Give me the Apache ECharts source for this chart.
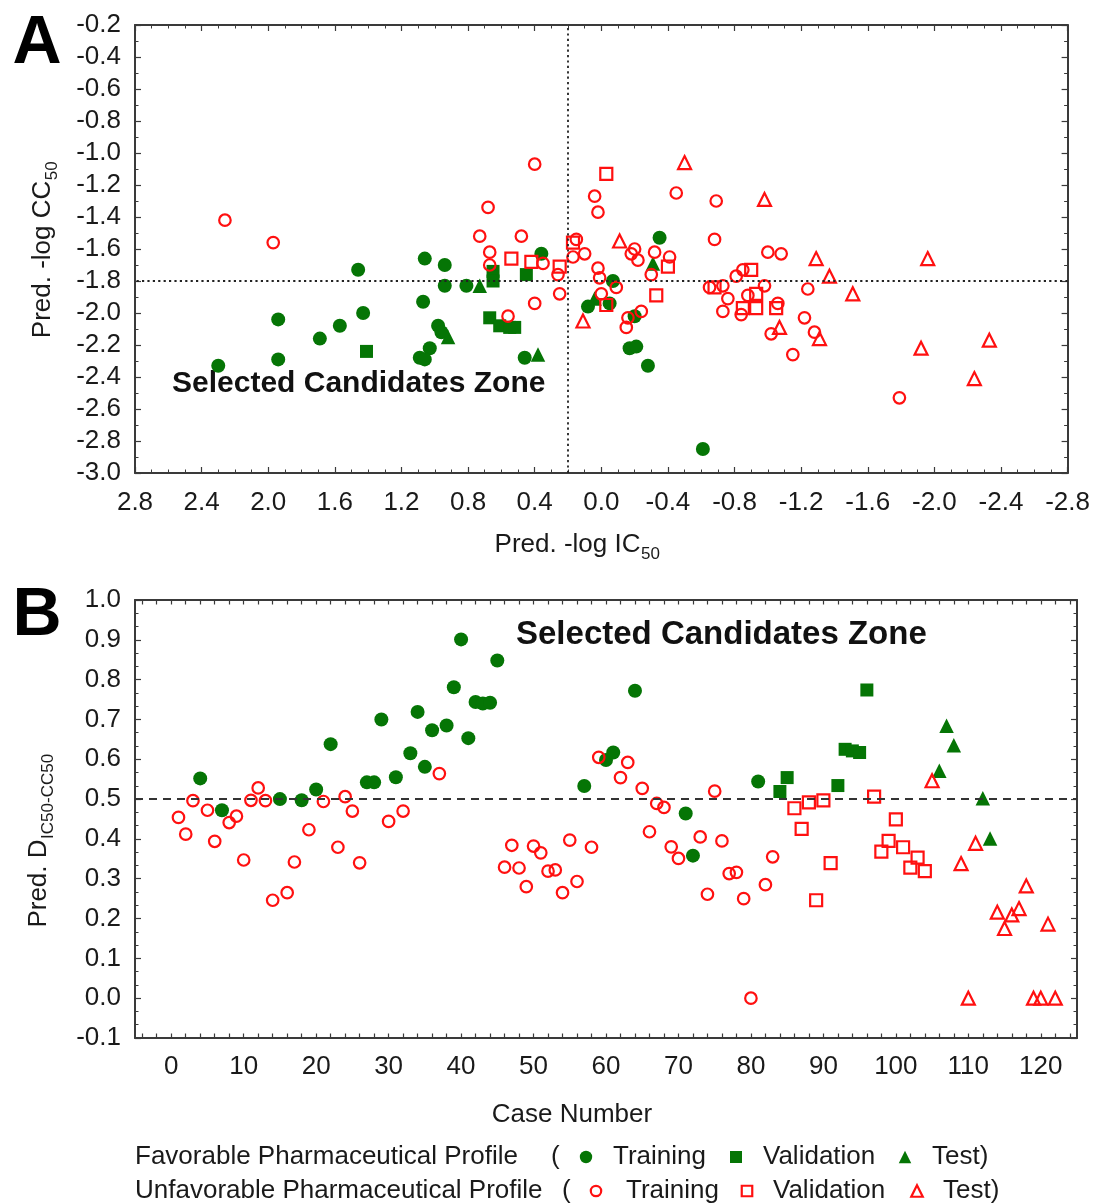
<!DOCTYPE html>
<html>
<head>
<meta charset="utf-8">
<title>Predicted activity / cytotoxicity</title>
<script src="https://cdn.jsdelivr.net/npm/echarts@6/dist/echarts.min.js"></script>
<style>
  html, body { margin: 0; padding: 0; background: #ffffff; }
  #chart { width: 1093px; height: 1203px; }
</style>
</head>
<body>
<div id="chart"></div>
<script>
// ---------- Panel A: predicted -log IC50 (x) vs predicted -log CC50 (y) ----------
const favTrainA = [
  [2.30,-2.33],[1.94,-2.29],[1.94,-2.04],[1.69,-2.16],[1.57,-2.08],[1.43,-2.00],[1.46,-1.73],
  [1.06,-1.66],[0.94,-1.70],[0.94,-1.83],[0.81,-1.83],[1.07,-1.93],[0.98,-2.08],[0.96,-2.12],
  [1.03,-2.22],[1.09,-2.28],[1.06,-2.29],[0.46,-2.28],[0.36,-1.63],[-0.35,-1.53],[-0.07,-1.80],
  [0.08,-1.96],[-0.05,-1.94],[-0.20,-2.02],[-0.17,-2.22],[-0.21,-2.21],[-0.28,-2.33],[-0.61,-2.85]
];
const favValA = [
  [1.41,-2.24],[0.65,-1.74],[0.65,-1.80],[0.45,-1.76],[0.67,-2.03],[0.61,-2.08],[0.55,-2.09],[0.52,-2.09]
];
const favTestA = [
  [0.92,-2.15],[0.73,-1.83],[0.38,-2.26],[0.04,-1.91],[-0.31,-1.69]
];
const unfavTrainA = [
  [2.26,-1.42],[1.97,-1.56],[0.40,-1.07],[0.68,-1.34],[0.73,-1.52],[0.48,-1.52],[0.67,-1.62],
  [0.67,-1.70],[0.35,-1.69],[0.26,-1.76],[0.25,-1.88],[0.40,-1.94],[0.56,-2.02],[0.15,-1.54],
  [0.17,-1.65],[0.10,-1.63],[0.04,-1.27],[0.02,-1.37],[0.02,-1.72],[0.01,-1.78],[0.00,-1.88],
  [-0.45,-1.25],[-0.69,-1.30],[-0.68,-1.54],[-0.20,-1.60],[-0.18,-1.63],[-0.22,-1.67],[-0.32,-1.62],
  [-0.41,-1.65],[-0.30,-1.76],[-0.09,-1.84],[-0.24,-1.99],[-0.16,-2.03],[-0.15,-2.09],[-1.00,-1.62],
  [-1.08,-1.63],[-0.81,-1.77],[-0.85,-1.73],[-0.65,-1.84],[-0.73,-1.83],[-0.98,-1.83],[-0.76,-1.91],
  [-0.73,-1.99],[-0.88,-1.89],[-0.84,-2.01],[-1.06,-1.94],[-1.24,-1.85],[-1.22,-2.03],[-1.02,-2.13],
  [-1.28,-2.12],[-1.15,-2.26],[-1.79,-2.53]
];
const unfavValA = [
  [0.54,-1.66],[0.42,-1.68],[0.25,-1.71],[0.17,-1.56],[-0.03,-1.95],[-0.03,-1.13],[-0.40,-1.71],
  [-0.33,-1.89],[-0.68,-1.84],[-0.90,-1.73],[-0.93,-1.88],[-0.85,-1.97],[-0.93,-1.97],[-1.05,-1.97]
];
const unfavTestA = [
  [0.11,-2.05],[-0.50,-1.06],[-0.98,-1.29],[-0.11,-1.55],[-1.29,-1.66],[-1.37,-1.77],[-1.51,-1.88],
  [-1.96,-1.66],[-1.07,-2.09],[-1.31,-2.16],[-1.92,-2.22],[-2.33,-2.17],[-2.24,-2.41]
];

// ---------- Panel B: case number vs predicted desirability D ----------
const favTrainB = [
  [4,0.552],[7,0.472],[15,0.500],[18,0.497],[20,0.524],[22,0.638],[27,0.542],[28,0.542],[29,0.700],
  [31,0.555],[33,0.615],[34,0.719],[35,0.581],[36,0.673],[38,0.685],[39,0.781],[40,0.901],[41,0.653],
  [42,0.744],[43,0.740],[44,0.742],[45,0.848],[57,0.533],[60,0.598],[61,0.617],[64,0.772],[71,0.464],
  [72,0.358],[81,0.544]
];
const favValB = [
  [84,0.519],[85,0.554],[92,0.534],[93,0.625],[94,0.621],[95,0.617],[96,0.774]
];
const favTestB = [
  [106,0.571],[107,0.684],[108,0.635],[112,0.502],[113,0.401]
];
const unfavTrainB = [
  [1,0.454],[2,0.412],[3,0.496],[5,0.472],[6,0.394],[8,0.441],[9,0.457],[10,0.347],[11,0.497],
  [12,0.528],[13,0.496],[14,0.246],[16,0.265],[17,0.342],[19,0.423],[21,0.494],[23,0.379],[24,0.506],
  [25,0.470],[26,0.340],[30,0.444],[32,0.470],[37,0.564],[46,0.329],[47,0.384],[48,0.327],[49,0.280],
  [50,0.382],[51,0.365],[52,0.319],[53,0.322],[54,0.265],[55,0.397],[56,0.293],[58,0.379],[59,0.605],
  [62,0.554],[63,0.592],[65,0.527],[66,0.418],[67,0.489],[68,0.479],[69,0.380],[70,0.351],[73,0.405],
  [74,0.261],[75,0.520],[76,0.395],[77,0.313],[78,0.316],[79,0.250],[80,0.000],[82,0.285],[83,0.355]
];
const unfavValB = [
  [86,0.477],[87,0.425],[88,0.492],[89,0.246],[90,0.497],[91,0.339],[97,0.506],[98,0.368],[99,0.395],
  [100,0.449],[101,0.379],[102,0.328],[103,0.353],[104,0.319]
];
const unfavTestB = [
  [105,0.546],[109,0.338],[110,0.000],[111,0.389],[114,0.216],[115,0.175],[116,0.209],[117,0.225],
  [118,0.282],[119,0.000],[120,0.000],[121,0.186],[122,0.000]
];

// Selection thresholds drawn as reference lines
const cutoffIC50 = 0.2;
const cutoffCC50 = -1.8;
const cutoffD = 0.5;

// Case-number axis labels
const caseTickLabels = [0, 10, 20, 30, 40, 50, 60, 70, 80, 90, 100, 110, 120];

// ---------- styling ----------
const FAMILY = '"Liberation Sans", Arial, sans-serif';
const GREEN = '#057505';
const RED = '#ff1010';
const INK = '#1a1a1a';
const FRAME = '#3a3a3a';

const caseMinorTicks = [];
for (let c = -4; c <= 124; c += 2) caseMinorTicks.push(c);

const fmt1 = v => (Math.abs(v) < 1e-9 ? 0 : v).toFixed(1);

function frameAxis(extra, withLabels, labelMargin, labelFormatter) {
  return Object.assign({
    type: 'value',
    axisLine: { show: true, onZero: false, lineStyle: { color: FRAME, width: 2 } },
    axisTick: { show: true, inside: true, length: 6, lineStyle: { color: FRAME, width: 1.2 } },
    minorTick: { show: false },
    splitLine: { show: false },
    minorSplitLine: { show: false },
    axisLabel: withLabels
      ? { show: true, color: INK, fontFamily: FAMILY, fontSize: 26, margin: labelMargin, formatter: labelFormatter }
      : { show: false }
  }, extra);
}

function minor(splitNumber) {
  return { show: true, splitNumber, length: 3.5, lineStyle: { color: FRAME, width: 1 } };
}

function marks(name, data, axisIdx, kind, filled, color) {
  const base = { circle: 'circle', square: 'rect', triangle: 'triangle' }[kind];
  let size;
  if (filled) size = kind === 'circle' ? 14 : kind === 'square' ? 13 : 14.5;
  else size = kind === 'circle' ? 11.5 : kind === 'square' ? 12 : 13;
  return {
    name,
    type: 'scatter',
    xAxisIndex: axisIdx,
    yAxisIndex: axisIdx,
    data,
    symbol: base,
    symbolSize: size,
    itemStyle: filled
      ? { color: color, borderWidth: 0, opacity: 1 }
      : { color: 'rgba(255,255,255,0)', borderColor: color, borderWidth: 2.2, opacity: 1 },
    emphasis: { disabled: true },
    silent: true
  };
}

// ---------- text helpers for titles with subscripts ----------
const measureCtx = document.createElement('canvas').getContext('2d');
function textWidth(str, font) { measureCtx.font = font; return measureCtx.measureText(str).width; }

function txt(x, y, text, font, align, fill) {
  return {
    type: 'text', x, y, silent: true,
    style: {
      text, font, fill: fill || INK,
      align: align || 'left', verticalAlign: 'middle',
      textAlign: align || 'left', textVerticalAlign: 'middle'
    }
  };
}

function subscripted(cx, cy, main, sub, mainSize, subSize, drop, rotation) {
  const fMain = mainSize + 'px ' + FAMILY;
  const fSub = subSize + 'px ' + FAMILY;
  const w1 = textWidth(main, fMain);
  const w2 = textWidth(sub, fSub);
  const x0 = -(w1 + w2) / 2;
  return {
    type: 'group', x: cx, y: cy, rotation: rotation || 0, silent: true,
    children: [txt(x0, 0, main, fMain), txt(x0 + w1 + 0.5, drop, sub, fSub)]
  };
}

function legendShape(kind, filled, color, cx, cy) {
  const style = filled ? { fill: color } : { fill: 'none', stroke: color, lineWidth: 2.2 };
  if (kind === 'circle') {
    return { type: 'circle', silent: true, shape: { cx, cy, r: filled ? 6.2 : 5.2 }, style };
  }
  if (kind === 'square') {
    const h = filled ? 12 : 10.5;
    return { type: 'rect', silent: true, shape: { x: cx - h / 2, y: cy - h / 2, width: h, height: h }, style };
  }
  const h = filled ? 12.5 : 11.5;
  return { type: 'polygon', silent: true,
    shape: { points: [[cx, cy - h / 2], [cx + h / 2, cy + h / 2], [cx - h / 2, cy + h / 2]] }, style };
}

const F26 = '26px ' + FAMILY;
const legendY1 = 1157, legendY2 = 1191;

const graphics = [
  txt(37, 44, 'A', 'bold 68px ' + FAMILY, 'center', '#000'),
  txt(37, 616, 'B', 'bold 68px ' + FAMILY, 'center', '#000'),
  subscripted(577, 545, 'Pred. -log IC', '50', 26, 17, 9, 0),
  subscripted(43, 250, 'Pred. -log CC', '50', 26, 17, 9, Math.PI / 2),
  txt(572, 1115, 'Case Number', F26, 'center'),
  subscripted(39, 841, 'Pred. D', 'IC50-CC50', 26, 17, 9, Math.PI / 2),
  txt(172, 384, 'Selected Candidates Zone', 'bold 30px ' + FAMILY, 'left', '#111'),
  txt(516, 635, 'Selected Candidates Zone', 'bold 33px ' + FAMILY, 'left', '#111'),

  txt(135, legendY1, 'Favorable Pharmaceutical Profile', F26),
  txt(551, legendY1, '(', F26),
  legendShape('circle', true, GREEN, 586, legendY1),
  txt(613, legendY1, 'Training', F26),
  legendShape('square', true, GREEN, 736, legendY1),
  txt(763, legendY1, 'Validation', F26),
  legendShape('triangle', true, GREEN, 905, legendY1),
  txt(932, legendY1, 'Test)', F26),

  txt(135, legendY2, 'Unfavorable Pharmaceutical Profile', F26),
  txt(562, legendY2, '(', F26),
  legendShape('circle', false, RED, 596, legendY2),
  txt(626, legendY2, 'Training', F26),
  legendShape('square', false, RED, 747, legendY2),
  txt(773, legendY2, 'Validation', F26),
  legendShape('triangle', false, RED, 917, legendY2),
  txt(943, legendY2, 'Test)', F26)
];

const axisA = { min: -2.8, max: 2.8, interval: 0.4, inverse: true, gridIndex: 0, minorTick: minor(4) };
const axisCC = { min: -3.0, max: -0.2, interval: 0.2, gridIndex: 0, minorTick: minor(2) };
const axisCase = { min: -5, max: 125, gridIndex: 1 };
const axisD = { min: -0.1, max: 1.0, interval: 0.1, gridIndex: 1, minorTick: minor(3) };

function caseAxis(position, withLabels) {
  const ax = frameAxis(Object.assign({ position }, axisCase), withLabels, 16, v => String(Math.round(v)));
  ax.axisTick = { show: true, inside: true, length: 4.5, customValues: caseMinorTicks,
                  lineStyle: { color: FRAME, width: 1.2 } };
  if (withLabels) ax.axisLabel.customValues = caseTickLabels;
  return ax;
}

const option = {
  animation: false,
  backgroundColor: '#ffffff',
  grid: [
    { left: 135, top: 25, width: 933, height: 448 },
    { left: 135, top: 600, width: 942, height: 438 }
  ],
  xAxis: [
    frameAxis(Object.assign({ position: 'bottom' }, axisA), true, 17, fmt1),
    frameAxis(Object.assign({ position: 'top' }, axisA), false),
    caseAxis('bottom', true),
    caseAxis('top', false)
  ],
  yAxis: [
    frameAxis(Object.assign({ position: 'left' }, axisCC), true, 14, fmt1),
    frameAxis(Object.assign({ position: 'right' }, axisCC), false),
    frameAxis(Object.assign({ position: 'left' }, axisD), true, 14, fmt1),
    frameAxis(Object.assign({ position: 'right' }, axisD), false)
  ],
  graphic: { elements: graphics },
  series: [
    Object.assign(marks('Favorable training', favTrainA, 0, 'circle', true, GREEN), {
      markLine: {
        silent: true, symbol: ['none', 'none'], animation: false,
        label: { show: false }, emphasis: { disabled: true },
        lineStyle: { color: '#222', width: 1.8, type: [2.2, 3.2], opacity: 1 },
        data: [{ yAxis: cutoffCC50 }, { xAxis: cutoffIC50 }]
      }
    }),
    marks('Favorable validation', favValA, 0, 'square', true, GREEN),
    marks('Favorable test', favTestA, 0, 'triangle', true, GREEN),
    marks('Unfavorable training', unfavTrainA, 0, 'circle', false, RED),
    marks('Unfavorable validation', unfavValA, 0, 'square', false, RED),
    marks('Unfavorable test', unfavTestA, 0, 'triangle', false, RED),

    Object.assign(marks('Favorable training', favTrainB, 2, 'circle', true, GREEN), {
      markLine: {
        silent: true, symbol: ['none', 'none'], animation: false,
        label: { show: false }, emphasis: { disabled: true },
        lineStyle: { color: '#333', width: 2, type: [8, 6], opacity: 1 },
        data: [{ yAxis: cutoffD }]
      }
    }),
    marks('Favorable validation', favValB, 2, 'square', true, GREEN),
    marks('Favorable test', favTestB, 2, 'triangle', true, GREEN),
    marks('Unfavorable training', unfavTrainB, 2, 'circle', false, RED),
    marks('Unfavorable validation', unfavValB, 2, 'square', false, RED),
    marks('Unfavorable test', unfavTestB, 2, 'triangle', false, RED)
  ]
};

const chart = echarts.init(document.getElementById('chart'), null, { renderer: 'canvas' });
chart.setOption(option);
</script>
</body>
</html>
